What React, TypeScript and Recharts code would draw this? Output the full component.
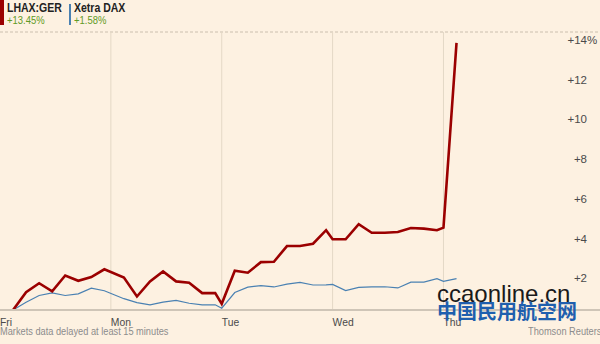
import { LineChart, Line, XAxis, YAxis, CartesianGrid, ReferenceLine } from 'recharts';

// trading hours since Friday open (a day is 8.5 hours wide)
const HOURS = [
  1, 2, 3, 4, 5, 6, 7, 8,
  9.5, 10.5, 11.5, 12.5, 13.5, 14.5, 15.5, 16.5,
  17, 18, 19, 20, 21, 22, 23, 24, 25,
  25.5, 26.5, 27.5, 28.5, 29.5, 30.5, 31.5, 32.5, 33.5,
  34, 35,
];

const LHAX = [
  0, 0.9, 1.35, 0.94, 1.74, 1.47, 1.66, 2.05,
  1.63, 0.68, 1.44, 1.94, 1.44, 1.37, 0.85, 0.85,
  0.31, 1.98, 1.88, 2.41, 2.43, 3.22, 3.22, 3.34, 4.02,
  3.56, 3.56, 4.32, 3.89, 3.89, 3.93, 4.13, 4.1, 4.02,
  4.15, 13.45,
];

const DAX = [
  0, 0.39, 0.73, 0.86, 0.73, 0.81, 1.1, 0.97,
  0.57, 0.37, 0.26, 0.4, 0.48, 0.34, 0.26, 0.26,
  0.09, 0.88, 1.15, 1.23, 1.16, 1.3, 1.39, 1.26, 1.27,
  1.29, 0.98, 1.14, 1.16, 1.17, 1.11, 1.4, 1.4, 1.58,
  1.44, 1.58,
];

const DAY_TICKS = [0, 8.5, 17, 25.5, 34];
const DAY_LABELS = ['Fri', 'Mon', 'Tue', 'Wed', 'Thu'];
const PCT_TICKS = [2, 4, 6, 8, 10, 12, 14];

const rows = HOURS.map((h, i) => ({ h, lhax: LHAX[i], dax: DAX[i] }));

const BG = '#fdf1e1';
const RED = '#9b0000';
const BLUE = '#4a81b2';
const GREEN = '#5f9a24';
const FONT = "'Liberation Sans', Arial, sans-serif";

const narrow = (k: number): any => ({ transform: `scaleX(${k})`, transformOrigin: 'left top', whiteSpace: 'nowrap' });

function DayTick(props: any) {
  const { x, y, payload } = props;
  const i = DAY_TICKS.indexOf(payload.value);
  return (
    <text transform={`translate(${x},${y + 8}) scale(0.9,1)`} textAnchor="start" fontSize={11.5} fill="#4a4a4a" fontFamily={FONT}>
      {DAY_LABELS[i]}
    </text>
  );
}

// right-hand percentage labels, sitting just under each grid line
const pctLabel = (v: number) => (props: any) => {
  const { viewBox } = props;
  const x = viewBox.x + viewBox.width - 13;
  const y = viewBox.y + 12;
  return (
    <g>
      <text x={x} y={y} textAnchor="end" fontSize={11.5} fill="#4a4a4a" fontFamily={FONT}>
        +{v}
      </text>
      {v === 14 && (
        <text x={x} y={y} textAnchor="start" fontSize={11.5} fill="#4a4a4a" fontFamily={FONT}>
          %
        </text>
      )}
    </g>
  );
};

export default function App() {
  return (
    <div style={{ position: 'absolute', left: 0, top: 0, width: 600, height: 344, background: BG, fontFamily: FONT, overflow: 'hidden' }}>
      <LineChart width={600} height={344} data={rows} margin={{ top: 32, right: 0, bottom: 14, left: 0 }}>
        <CartesianGrid vertical={false} stroke="#cbbfae" strokeDasharray="3 2" />
        {DAY_TICKS.slice(1).map((d) => (
          <ReferenceLine key={d} x={d} stroke="#e4d8c6" strokeWidth={1} />
        ))}
        <XAxis
          type="number"
          dataKey="h"
          domain={[0, 46]}
          ticks={DAY_TICKS}
          interval={0}
          tick={DayTick}
          tickLine={false}
          axisLine={{ stroke: '#cfc5b7', strokeWidth: 2 }}
          height={20}
        />
        <YAxis
          orientation="right"
          width={0}
          domain={[0, 14]}
          ticks={PCT_TICKS}
          interval={0}
          tick={false}
          tickLine={false}
          axisLine={false}
        />
        {PCT_TICKS.map((v) => (
          <ReferenceLine key={'p' + v} y={v} stroke="none" label={{ content: pctLabel(v) }} />
        ))}
        <Line type="linear" dataKey="dax" stroke={BLUE} strokeWidth={1.2} dot={false} isAnimationActive={false} />
        <Line type="linear" dataKey="lhax" stroke={RED} strokeWidth={2.6} dot={false} isAnimationActive={false} />
      </LineChart>

      <div style={{ position: 'absolute', left: 0, top: 0, width: 4, height: 25, background: RED }} />
      <div style={{ position: 'absolute', left: 7, top: 1, fontSize: 12.5, fontWeight: 'bold', color: '#222', lineHeight: '14px', ...narrow(0.84) }}>LHAX:GER</div>
      <div style={{ position: 'absolute', left: 7, top: 14, fontSize: 11, color: GREEN, lineHeight: '13px', ...narrow(0.86) }}>+13.45%</div>
      <div style={{ position: 'absolute', left: 69, top: 4, width: 2, height: 21, background: BLUE }} />
      <div style={{ position: 'absolute', left: 74, top: 1, fontSize: 12.5, fontWeight: 'bold', color: '#222', lineHeight: '14px', ...narrow(0.84) }}>Xetra DAX</div>
      <div style={{ position: 'absolute', left: 74, top: 14, fontSize: 11, color: GREEN, lineHeight: '13px', ...narrow(0.86) }}>+1.58%</div>

      <div style={{ position: 'absolute', left: 0, top: 325, fontSize: 10.5, color: '#8c8c8c', lineHeight: '12px', ...narrow(0.88) }}>Markets data delayed at least 15 minutes</div>
      <div style={{ position: 'absolute', left: 528, top: 325, fontSize: 10.5, color: '#8c8c8c', lineHeight: '12px', ...narrow(0.88) }}>Thomson Reuters</div>

      <div style={{ position: 'absolute', left: 437, top: 281, fontSize: 24, color: '#1a1a1a', fontFamily: "'Liberation Sans', sans-serif", lineHeight: '26px' }}>ccaonline.cn</div>
      <div style={{ position: 'absolute', left: 437, top: 300, fontSize: 20, fontWeight: 'bold', color: '#1f5fae', fontFamily: "'Noto Sans CJK SC', sans-serif", lineHeight: '22px' }}>中国民用航空网</div>
    </div>
  );
}
